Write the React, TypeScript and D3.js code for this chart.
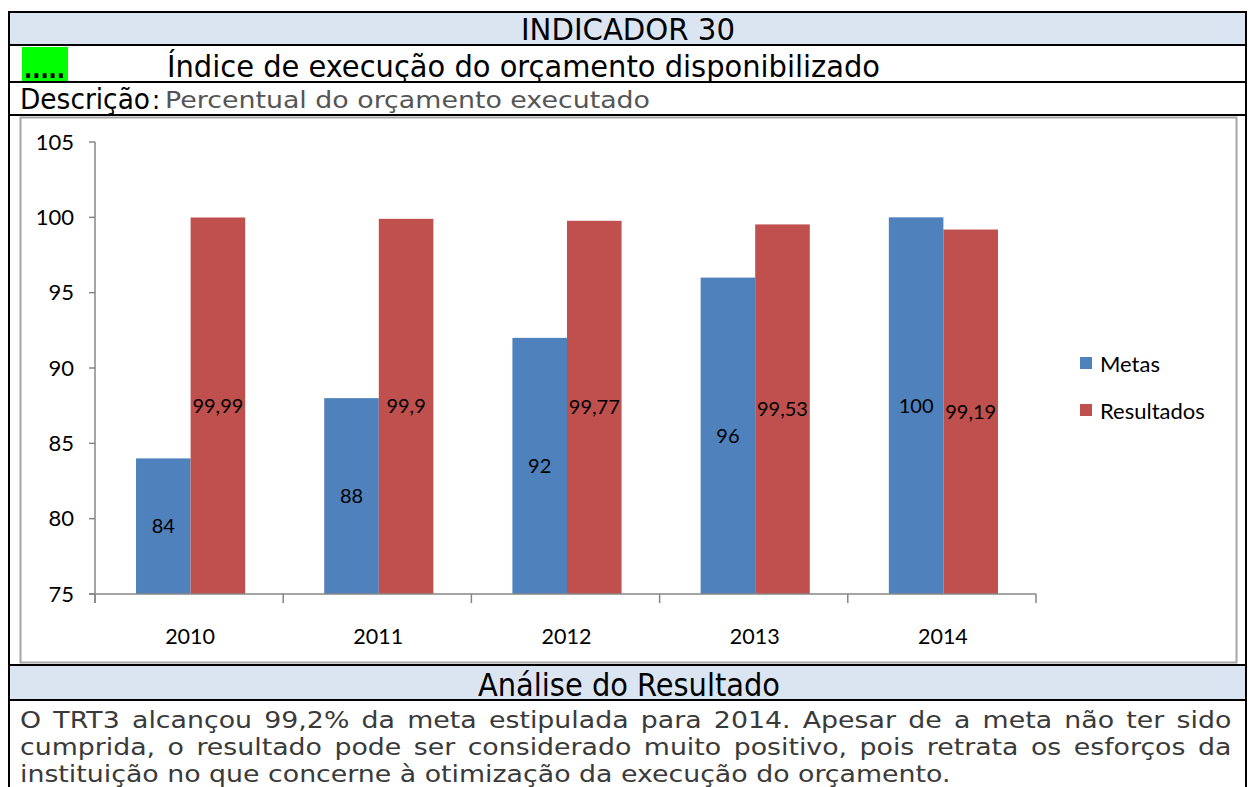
import React, { useLayoutEffect, useRef, useState } from 'react';
import * as d3 from 'd3';

const years = ['2010', '2011', '2012', '2013', '2014'];
const metas = [84, 88, 92, 96, 100];
const resultados = [99.99, 99.9, 99.77, 99.53, 99.19];
const yTicks = [75, 80, 85, 90, 95, 100, 105];
const seriesNames = ['Metas', 'Resultados'];
const seriesColors = ['#4F81BD', '#C0504D'];

const bodyLines = [
  'O TRT3 alcançou 99,2% da meta estipulada para 2014. Apesar de a meta não ter sido',
  'cumprida, o resultado pode ser considerado muito positivo, pois retrata os esforços da',
  'instituição no que concerne à otimização da execução do orçamento.',
];

const fmt = (v: number) => String(v).replace('.', ',');

export default function App() {
  const W = 1249;
  const H = 787;
  const x = d3.scaleBand<string>().domain(years).range([95, 1036]);
  const y = d3.scaleLinear().domain([75, 105]).range([594, 142]);
  const bw = x.bandwidth();
  const barW = bw * 0.29;
  const groupOff = (bw - 2 * barW) / 2 + 1.5;
  const series = [metas, resultados];
  const chartFont = 'Lato, "Open Sans", sans-serif';
  const condFont = '"DejaVu Sans Condensed", "DejaVu Sans", sans-serif';
  const boundaries = [...years.map((yr) => x(yr) as number), 1036];

  const bodyFs = 23;
  const lineRefs = useRef<(SVGTextElement | null)[]>([]);
  const [layout, setLayout] = useState<{ sx: number; ws: number[] } | null>(null);

  useLayoutEffect(() => {
    if (layout) return;
    const els = lineRefs.current;
    if (!els[2]) return;
    const w3 = els[2].getComputedTextLength();
    const sx = Math.min(1.3, Math.max(0.8, 931 / w3));
    const ws = [0, 1].map((i) => {
      const w = els[i]!.getComputedTextLength();
      const spaces = bodyLines[i].split(' ').length - 1;
      return Math.max(0, (1212 / sx - w) / spaces);
    });
    setLayout({ sx, ws });
  }, [layout]);

  const sx = layout ? layout.sx : 1;

  return (
    <svg width={W} height={H} style={{ position: 'absolute', left: 0, top: 0 }}>
      <rect x={0} y={0} width={W} height={H} fill="#fff" />
      {/* header rows */}
      <rect x={9} y={12} width={1237} height={33} fill="#DBE5F1" />
      <rect x={9} y={665} width={1237} height={35} fill="#DBE5F1" />
      <rect x={22} y={47} width={46} height={34} fill="#00FF00" />
      <text x={24} y={78} fontFamily={condFont} fontSize={24} fontWeight="bold" fill="#000">.....</text>

      <text x={521} y={40} fontFamily={condFont} fontSize={31} fill="#000" textLength={214} lengthAdjust="spacingAndGlyphs">INDICADOR 30</text>
      <text x={167} y={77} fontFamily={condFont} fontSize={31} fill="#000" textLength={713} lengthAdjust="spacingAndGlyphs">Índice de execução do orçamento disponibilizado</text>
      <text x={20} y={109} fontFamily={condFont} fontSize={29} fill="#000" textLength={130} lengthAdjust="spacingAndGlyphs">Descrição</text>
      <text x={152} y={109} fontFamily={condFont} fontSize={27} fill="#000">:</text>
      <text x={165} y={108} fontFamily='"DejaVu Sans", sans-serif' fontSize={23} fill="#555" textLength={485} lengthAdjust="spacingAndGlyphs">Percentual do orçamento executado</text>
      <text x={478} y={696} fontFamily={condFont} fontSize={32} fill="#000" textLength={302} lengthAdjust="spacingAndGlyphs">Análise do Resultado</text>

      <g transform={`translate(20,0) scale(${sx},1)`}>
        {bodyLines.map((line, i) => (
          <text key={i} ref={(el) => { lineRefs.current[i] = el; }} x={0} y={728 + i * 27}
            fontFamily='"DejaVu Sans", sans-serif' fontSize={bodyFs} fill="#3a3a3a"
            style={{ wordSpacing: layout && i < 2 ? `${layout.ws[i]}px` : undefined }}>{line}</text>
        ))}
      </g>

      {/* chart frame */}
      <rect x={20.5} y={117.5} width={1216} height={545} fill="#fff" stroke="#A6A6A6" strokeWidth={2} />

      {/* bars */}
      {years.map((yr, i) => (
        <g key={yr}>
          {series.map((s, si) => {
            const bx = (x(yr) as number) + groupOff + si * barW;
            const top = y(s[i]);
            return (
              <g key={si}>
                <rect x={bx} y={top} width={barW} height={y(75) - top} fill={seriesColors[si]} />
                <text x={bx + barW / 2} y={(top + y(75)) / 2} dy="0.35em" textAnchor="middle"
                  fontFamily={chartFont} fontSize={20} fill="#000">{fmt(s[i])}</text>
              </g>
            );
          })}
        </g>
      ))}

      {/* axes */}
      <line x1={95} y1={142} x2={95} y2={603} stroke="#868686" strokeWidth={1.5} />
      {yTicks.map((t) => (
        <g key={t}>
          <line x1={89} x2={95} y1={y(t)} y2={y(t)} stroke="#868686" strokeWidth={1.5} />
          <text x={74} y={y(t)} dy="0.35em" textAnchor="end" fontFamily={chartFont} fontSize={22} fill="#000">{t}</text>
        </g>
      ))}
      <line x1={89} y1={594} x2={1036} y2={594} stroke="#868686" strokeWidth={1.5} />
      {boundaries.map((b, i) => (
        <line key={i} x1={b} x2={b} y1={594} y2={603} stroke="#868686" strokeWidth={1.5} />
      ))}
      {years.map((yr) => (
        <text key={yr} x={(x(yr) as number) + bw / 2 + 1} y={636} dy="0.35em" textAnchor="middle"
          fontFamily={chartFont} fontSize={21.5} fill="#000">{yr}</text>
      ))}

      {/* legend */}
      {seriesNames.map((n, i) => (
        <g key={n}>
          <rect x={1080} y={357 + i * 47} width={12} height={12} fill={seriesColors[i]} />
          <text x={1100} y={364 + i * 47} dy="0.35em" fontFamily={chartFont} fontSize={22} fill="#000">{n}</text>
        </g>
      ))}

      {/* table borders */}
      <rect x={9} y={12} width={1237} height={790} fill="none" stroke="#000" strokeWidth={2} />
      <line x1={9} x2={1246} y1={45} y2={45} stroke="#000" strokeWidth={2} />
      <line x1={9} x2={1246} y1={82} y2={82} stroke="#000" strokeWidth={2} />
      <line x1={9} x2={1246} y1={115} y2={115} stroke="#000" strokeWidth={2} />
      <line x1={9} x2={1246} y1={665} y2={665} stroke="#000" strokeWidth={2} />
      <line x1={9} x2={1246} y1={700} y2={700} stroke="#000" strokeWidth={2} />
    </svg>
  );
}
